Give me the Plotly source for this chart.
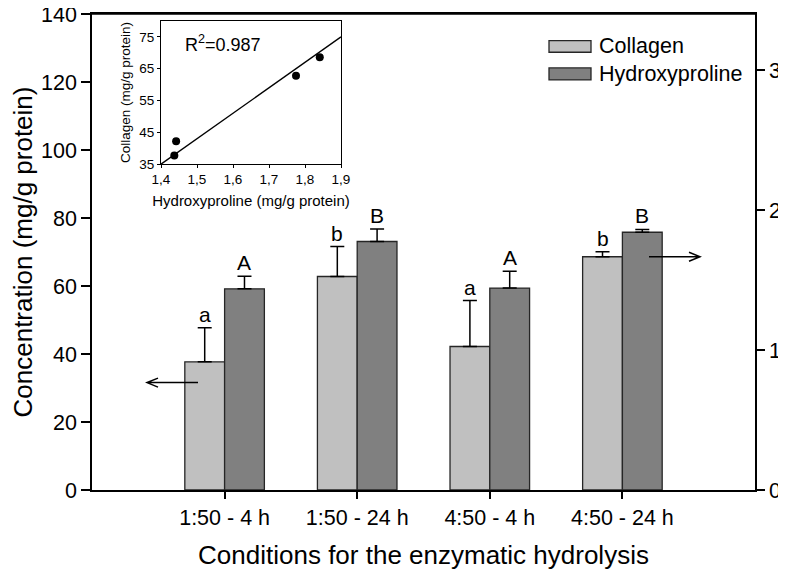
import plotly.graph_objects as go

# ---------------- data ----------------
conditions = ["1:50 - 4 h", "1:50 - 24 h", "4:50 - 4 h", "4:50 - 24 h"]
collagen = [37.7, 62.8, 42.2, 68.6]            # mg/g protein (left axis)
collagen_err = [10.0, 8.8, 13.5, 1.5]
hydroxyproline = [1.437, 1.775, 1.442, 1.841]  # mg/g protein (right axis)
hydroxyproline_err = [0.09, 0.09, 0.12, 0.02]
collagen_letters = ["a", "b", "a", "b"]
hydroxy_letters = ["A", "B", "A", "B"]
left_ticks = [0, 20, 40, 60, 80, 100, 120, 140]
right_ticks = [0, 1, 2, 3]
inset_x_ticks = [1.4, 1.5, 1.6, 1.7, 1.8, 1.9]
inset_y_ticks = [35, 45, 55, 65, 75]
fit_x = [1.4, 1.9]
fit_y = [35.0, 75.0]
r_squared = "0.987"

FONT = "Liberation Sans, Arial, sans-serif"
LIGHT = "#c0c0c0"
DARK = "#808080"
EDGE = "#262626"

# the page body adds an 8px margin; the figure is sized to fill the rest
OFF = 8
W, H = 786 - OFF, 577 - OFF
# plot area in window pixels: x 92..755, y 14..490.5
PL, PR, PT, PB = 92, 755, 14, 490.5
ML, MT = PL - OFF, PT - OFF
MR = W - (PR - OFF)
MB = H - (PB - OFF)
PW, PH = PR - PL, PB - PT


def px_x(p):
    return (p - PL) / PW


def px_y(p):
    return (PB - p) / PH


xpos = list(range(len(conditions)))
BW = 0.3

fig = go.Figure()

fig.add_trace(go.Bar(
    x=xpos, y=collagen, name="Collagen", yaxis="y", xaxis="x",
    width=BW, offset=-BW,
    marker=dict(color=LIGHT, line=dict(color=EDGE, width=1.3)),
    error_y=dict(type="data", array=collagen_err, arrayminus=[0] * 4,
                 symmetric=False, color="black", thickness=1.5, width=7),
    showlegend=False,
))
fig.add_trace(go.Bar(
    x=xpos, y=hydroxyproline, name="Hydroxyproline", yaxis="y2", xaxis="x",
    width=BW, offset=0,
    marker=dict(color=DARK, line=dict(color=EDGE, width=1.3)),
    error_y=dict(type="data", array=hydroxyproline_err, arrayminus=[0] * 4,
                 symmetric=False, color="black", thickness=1.5, width=7),
    showlegend=False,
))

# inset
fig.add_trace(go.Scatter(
    x=fit_x, y=fit_y, mode="lines", xaxis="x2", yaxis="y3",
    line=dict(color="black", width=1.3), showlegend=False,
))
fig.add_trace(go.Scatter(
    x=hydroxyproline, y=collagen, mode="markers", xaxis="x2", yaxis="y3",
    marker=dict(color="black", size=8), showlegend=False,
))

annotations = []
for i in xpos:
    annotations.append(dict(
        x=i - BW / 2, y=collagen[i] + collagen_err[i], xref="x", yref="y",
        text=collagen_letters[i], showarrow=False, yanchor="bottom",
        font=dict(size=21, color="black", family=FONT), yshift=0))
    annotations.append(dict(
        x=i + BW / 2, y=hydroxyproline[i] + hydroxyproline_err[i], xref="x", yref="y2",
        text=hydroxy_letters[i], showarrow=False, yanchor="bottom",
        font=dict(size=21, color="black", family=FONT), yshift=0))

# R^2 text
annotations.append(dict(
    x=1.461, y=72.8, xref="x2", yref="y3", xanchor="left", yanchor="middle",
    text="R<sup>2</sup>=" + r_squared, showarrow=False,
    font=dict(size=18, color="black", family=FONT)))

# top frame line
shapes = [dict(type="line", xref="paper", yref="paper", x0=0, x1=1, y0=1, y1=1,
               line=dict(color="black", width=1.5), layer="above")]


# axis-indicating arrows (window pixels -> paper coords)
def arrow_path(tail, head, y, length=11, half=4.5):
    d = 1 if head > tail else -1
    hx = head - d * length
    return ("M{:.5f},{:.5f} L{:.5f},{:.5f} M{:.5f},{:.5f} L{:.5f},{:.5f} L{:.5f},{:.5f}".format(
        px_x(tail), px_y(y), px_x(head), px_y(y),
        px_x(hx), px_y(y - half), px_x(head), px_y(y), px_x(hx), px_y(y + half)))


for tail, head, y in [(198, 147, 383), (649, 700, 257)]:
    shapes.append(dict(type="path", xref="paper", yref="paper",
                       path=arrow_path(tail, head, y),
                       line=dict(color="black", width=1.5), layer="above"))

# manual legend
legend_items = [("Collagen", LIGHT, 40.7, 52.3, 46.5), ("Hydroxyproline", DARK, 68, 80, 74)]
for label, col, y0, y1, yc in legend_items:
    shapes.append(dict(type="rect", xref="paper", yref="paper",
                       x0=px_x(549), x1=px_x(591), y0=px_y(y1), y1=px_y(y0),
                       fillcolor=col, line=dict(color=EDGE, width=1.3)))
    annotations.append(dict(
        x=px_x(597), y=px_y(yc), xref="paper", yref="paper", xanchor="left",
        yanchor="middle", text=label, showarrow=False,
        font=dict(size=21.5, color="black", family=FONT)))

axis_common = dict(showline=True, linecolor="black", linewidth=1.5, showgrid=False,
                   zeroline=False, ticks="outside", tickcolor="black", tickwidth=1.5,
                   automargin=False, ticklabeloverflow="allow")
inset_common = {**axis_common, "linewidth": 1.2, "tickwidth": 1.2}

fig.update_layout(
    width=W, height=H,
    margin=dict(l=ML, r=MR, t=MT, b=MB, pad=0),
    paper_bgcolor="white", plot_bgcolor="white",
    font=dict(family=FONT, color="black"),
    separators=",.",
    barmode="group",
    xaxis=dict(domain=[0, 1], range=[-1, 4], tickvals=xpos, ticktext=conditions,
               ticklen=7, mirror=True, tickfont=dict(size=21.5),
               title=dict(text="Conditions for the enzymatic hydrolysis",
                          font=dict(size=26), standoff=17),
               **axis_common),
    yaxis=dict(domain=[0, 1], range=[0, 140], tickvals=left_ticks, ticklen=9,
               tickfont=dict(size=21.5),
               title=dict(text="Concentration (mg/g protein)", font=dict(size=26), standoff=10),
               **axis_common),
    yaxis2=dict(overlaying="y", side="right", anchor="x", range=[0, 3.4],
                tickvals=right_ticks, ticklen=8, tickfont=dict(size=21.5),
                **axis_common),
    xaxis2=dict(domain=[px_x(161), px_x(341)], anchor="y3", range=[1.4, 1.9],
                tickvals=inset_x_ticks, ticklen=3, mirror=True, tickformat=".1f",
                tickfont=dict(size=13.5),
                title=dict(text="Hydroxyproline (mg/g protein)", font=dict(size=15), standoff=9),
                **inset_common),
    yaxis3=dict(domain=[px_y(164.3), px_y(21)], anchor="x2", range=[35, 80],
                tickvals=inset_y_ticks, ticklen=3, mirror=True,
                tickfont=dict(size=13.5),
                title=dict(text="Collagen (mg/g protein)", font=dict(size=13.5), standoff=5),
                **inset_common),
    annotations=annotations,
    shapes=shapes,
)

fig.write_html("out.html")
